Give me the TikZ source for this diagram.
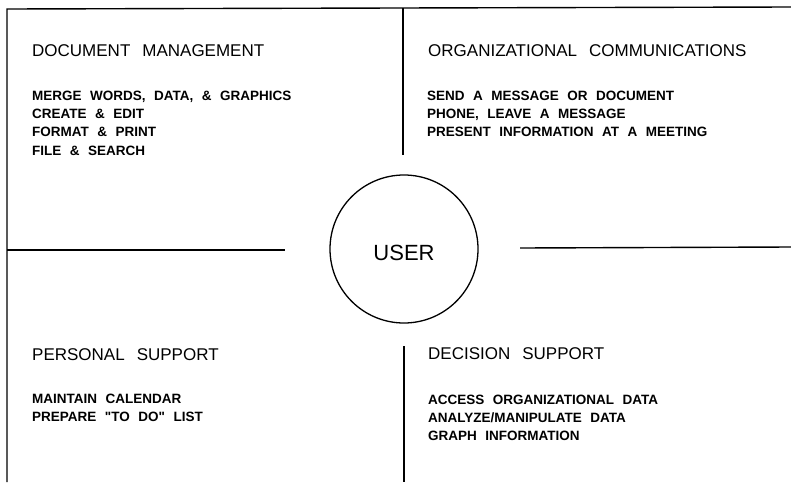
\documentclass[tikz,border=0pt]{standalone}
\usepackage{fontspec}
\setmainfont{Liberation Sans}
\newcommand\myheadfont{\fontsize{17}{20}\selectfont\spaceskip 12pt\relax}
\newcommand\myitemfont{\bfseries\fontsize{13.5}{16}\selectfont\spaceskip 8.5pt\relax}
\begin{document}
\begin{tikzpicture}[x=1pt,y=-1pt]
\tikzset{
  rule/.style={line width=1.4pt, black},
  head/.style={anchor=base west, inner sep=0pt, font=\myheadfont},
  item/.style={anchor=base west, inner sep=0pt, font=\myitemfont},
  hub/.style={circle, draw, line width=1.3pt, minimum size=148pt, inner sep=0pt, text height=23.7pt, font=\fontsize{22}{24}\selectfont}
}
\useasboundingbox (0,0) rectangle (791,482);
% frame and dividers
\coordinate (bl) at (7,482);
\coordinate (tl) at (7,9);
\coordinate (tr) at (791,7);
\coordinate (vt1) at (403,8);
\coordinate (vt2) at (403,155);
\coordinate (vb1) at (404,346);
\coordinate (vb2) at (404,482);
\coordinate (hl1) at (7,250);
\coordinate (hl2) at (285,250);
\coordinate (hr1) at (520,248);
\coordinate (hr2) at (791,247);
\draw[rule] (bl) -- (tl) -- (tr);
\draw[rule] (vt1) -- (vt2);
\draw[rule] (vb1) -- (vb2);
\draw[rule] (hl1) -- (hl2);
\draw[rule] (hr1) -- (hr2);
\node[hub] (user) at (404,249) {USER};
% document management
\node[head] (dm) at (32,56) {DOCUMENT MANAGEMENT};
\node[item] (dm1) at (32,100) {MERGE WORDS, DATA, \& GRAPHICS};
\node[item] (dm2) at (32,118.3) {CREATE \& EDIT};
\node[item] (dm3) at (32,136.6) {FORMAT \& PRINT};
\node[item] (dm4) at (32,155) {FILE \& SEARCH};
% organizational communications
\node[head] (oc) at (428,56) {ORGANIZATIONAL COMMUNICATIONS};
\node[item] (oc1) at (427,100) {SEND A MESSAGE OR DOCUMENT};
\node[item] (oc2) at (427,118.3) {PHONE, LEAVE A MESSAGE};
\node[item] (oc3) at (427,136.6) {PRESENT INFORMATION AT A MEETING};
% personal support
\node[head] (ps) at (32,360) {PERSONAL SUPPORT};
\node[item] (ps1) at (32,403.5) {MAINTAIN CALENDAR};
\node[item] (ps2) at (32,421.8) {PREPARE \textquotedbl TO DO\textquotedbl{} LIST};
% decision support
\node[head] (ds) at (428,359) {DECISION SUPPORT};
\node[item] (ds1) at (428,404) {ACCESS ORGANIZATIONAL DATA};
\node[item] (ds2) at (428,422.3) {ANALYZE/MANIPULATE DATA};
\node[item] (ds3) at (428,440.6) {GRAPH INFORMATION};
\end{tikzpicture}
\end{document}
